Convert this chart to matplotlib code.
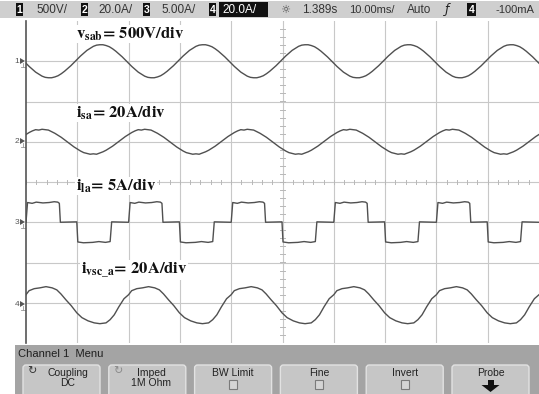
import numpy as np
import matplotlib
matplotlib.use('Agg')
import matplotlib.pyplot as plt
from matplotlib.patches import Rectangle, FancyBboxPatch, Polygon

matplotlib.rcParams['mathtext.fontset'] = 'stix'

W, H = 539, 394
ui_font = ['Liberation Sans', 'DejaVu Sans']
trace_color = '#505050'

# 每个通道一个周期(2格)的读数, x单位: 格, y单位: 格(相对各自零点)
ch1_x = np.arange(32) / 16
ch1_y = [-0.05, -0.13, -0.20, -0.27, -0.32, -0.37, -0.40, -0.41,
         -0.41, -0.39, -0.36, -0.31, -0.25, -0.18, -0.11, -0.03,
         0.05, 0.13, 0.20, 0.27, 0.32, 0.37, 0.40, 0.41,
         0.41, 0.39, 0.36, 0.31, 0.25, 0.18, 0.11, 0.03]

ch2_x = np.arange(32) / 16
ch2_y = [0.18, 0.23, 0.27, 0.30, 0.29, 0.31, 0.30, 0.29,
         0.25, 0.21, 0.16, 0.11, 0.05, -0.01, -0.07, -0.13,
         -0.18, -0.23, -0.27, -0.29, -0.31, -0.30, -0.31, -0.28,
         -0.25, -0.21, -0.16, -0.11, -0.05, 0.01, 0.07, 0.13]

ch3_x = [0.00, 0.03, 0.12, 0.20, 0.33, 0.45, 0.55, 0.62, 0.65, 0.67, 0.99,
         1.01, 1.12, 1.30, 1.42, 1.55, 1.64, 1.67, 1.98]
ch3_y = [0.00, 0.49, 0.47, 0.50, 0.48, 0.49, 0.51, 0.50, 0.47, 0.00, 0.01,
         -0.49, -0.51, -0.50, -0.48, -0.50, -0.48, 0.01, 0.00]

ch4_x = [0.00, 0.06, 0.16, 0.27, 0.39, 0.51, 0.60, 0.68, 0.78, 0.88,
         0.99, 1.09, 1.21, 1.33, 1.44, 1.56, 1.64, 1.72, 1.81, 1.91]
ch4_y = [0.20, 0.30, 0.35, 0.37, 0.40, 0.37, 0.32, 0.22, 0.07, -0.07,
         -0.25, -0.37, -0.45, -0.50, -0.52, -0.50, -0.42, -0.30, -0.10, 0.10]

# 各通道零点位置(格)
ch_offset = [3.0, 1.0, -1.0, -3.0]

ch_labels = [r'$\mathbf{v_{sab}}$= 500V/div', r'$\mathbf{i_{sa}}$= 20A/div',
             r'$\mathbf{i_{la}}$= 5A/div', r'$\mathbf{i_{vsc\_a}}$= 20A/div']

scales = ['500V/', '20.0A/', '5.00A/', '20.0A/']
menu_buttons = [('Coupling', 'DC'), ('Imped', '1M Ohm'), ('BW Limit', None),
                ('Fine', None), ('Invert', None), ('Probe', None)]


def tile(xs, ys, n=5, period=2.0):
    xs = np.asarray(xs, dtype=float)
    ys = np.asarray(ys, dtype=float)
    X = np.concatenate([xs + period * k for k in range(n)] + [xs[:1] + period * n])
    Y = np.concatenate([ys] * n + [ys[:1]])
    return X, Y


fig = plt.figure(figsize=(W / 100, H / 100), dpi=100)

# 背景装饰层, 像素坐标
deco = fig.add_axes([0, 0, 1, 1])
deco.set_xlim(0, W)
deco.set_ylim(H, 0)
deco.axis('off')

# 顶部状态栏
deco.add_patch(Rectangle((0, 1), W, 17, color='#cfcfcf', lw=0))
bx = [16, 81, 143, 209]
tx = [36, 98, 161, 222]
for i in range(4):
    deco.add_patch(Rectangle((bx[i], 3), 7, 13, color='#111111', lw=0))
    deco.text(bx[i] + 3.5, 9.5, str(i + 1), color='white', fontsize=7.5,
              ha='center', va='center', family=ui_font, weight='bold')
    if i == 3:
        deco.add_patch(Rectangle((219, 2), 49, 15, color='#111111', lw=0))
        deco.text(tx[i], 9.5, scales[i], color='white', fontsize=8.5,
                  ha='left', va='center', family=ui_font)
    else:
        deco.text(tx[i], 9.5, scales[i], color='#333333', fontsize=8.5,
                  ha='left', va='center', family=ui_font)
deco.text(285, 9.5, '☼', color='#444444', fontsize=8, ha='center', va='center',
          family=['DejaVu Sans'])
deco.text(302, 9.5, '1.389s', color='#333333', fontsize=8.5, ha='left', va='center', family=ui_font)
deco.text(349, 9.5, '10.00ms/', color='#333333', fontsize=8, ha='left', va='center', family=ui_font)
deco.text(407, 9.5, 'Auto', color='#333333', fontsize=8.5, ha='left', va='center', family=ui_font)
deco.text(447, 9.5, 'ƒ', color='#222222', fontsize=9, ha='center', va='center',
          family=['DejaVu Sans'], style='italic')
deco.add_patch(Rectangle((467, 3), 9, 13, color='#111111', lw=0))
deco.text(471.5, 9.5, '4', color='white', fontsize=7.5, ha='center', va='center',
          family=ui_font, weight='bold')
deco.text(495, 9.5, '-100mA', color='#333333', fontsize=8, ha='left', va='center', family=ui_font)

# 底部菜单
deco.add_patch(Rectangle((15, 345), W, H - 345, color='#a4a4a4', lw=0))
deco.text(18, 354, 'Channel 1  Menu', color='#1e1e1e', fontsize=8,
          ha='left', va='center', family=ui_font)
for k, (top, bottom) in enumerate(menu_buttons):
    x0 = 23 + 85.8 * k
    deco.add_patch(FancyBboxPatch((x0, 365), 77, 40,
                                  boxstyle='round,pad=0,rounding_size=3',
                                  fc='#c6c6c6', ec='#e2e2e2', lw=1))
    cx = x0 + 38.5
    if k == 0:
        cx += 6
        deco.text(x0 + 9, 371, '↻', color='#333333', fontsize=8, ha='center',
                  va='center', family=['DejaVu Sans'])
    if k == 1:
        cx += 4
        deco.text(x0 + 9, 371, '↻', color='#8a8a8a', fontsize=8, ha='center',
                  va='center', family=['DejaVu Sans'])
    deco.text(cx, 373, top, color='#222222', fontsize=7.5, ha='center',
              va='center', family=ui_font)
    if bottom:
        deco.text(cx, 383.5, bottom, color='#222222', fontsize=7.5, ha='center',
                  va='center', family=ui_font)
    elif k < 5:
        deco.add_patch(Rectangle((cx - 4, 380), 8, 9, fc='#d4d4d4', ec='#7a7a7a', lw=0.8))
    else:
        deco.add_patch(Polygon([(cx - 9, 385), (cx + 9, 385), (cx, 392)],
                               closed=True, color='#111111', lw=0))
        deco.add_patch(Rectangle((cx - 3, 380), 6, 5, color='#111111', lw=0))

# 通道零点标记
for i, yp in enumerate([61, 141, 222, 304]):
    deco.text(19.5, yp, str(i + 1), color='#555555', fontsize=6, ha='right',
              va='center', family=ui_font)
    deco.add_patch(Polygon([(20, yp - 3), (25, yp), (20, yp + 3)], closed=True,
                           color='#555555', lw=0))
    deco.plot([22.5, 22.5], [yp + 2, yp + 6], color='#999999', lw=0.6)
    deco.plot([20.5, 24.5], [yp + 6, yp + 6], color='#999999', lw=0.6)

# 示波器屏幕
ax = fig.add_axes([26 / W, 1 - 343 / H, (W - 26) / W, (343 - 21) / H])
ax.set_xlim(0, 10)
ax.set_ylim(-4, 4)
ax.set_facecolor('none')
for s in ['top', 'right', 'bottom']:
    ax.spines[s].set_visible(False)
ax.spines['left'].set_color('#555555')
ax.spines['left'].set_linewidth(1.2)
ax.set_xticks([])
ax.set_yticks([])
for i in range(1, 10):
    ax.axvline(i, color='#c8c8c8', lw=0.8, zorder=1)
for j in range(-3, 4):
    ax.axhline(j, color='#c8c8c8', lw=0.8, zorder=1)
for xm in np.arange(0, 10, 0.2):
    ax.plot([xm, xm], [-0.06, 0.06], color='#b8b8b8', lw=0.7, zorder=1)
for ym in np.arange(-4, 4, 0.2):
    ax.plot([4.95, 5.05], [ym, ym], color='#b8b8b8', lw=0.7, zorder=1)

for (xs, ys), off in zip([(ch1_x, ch1_y), (ch2_x, ch2_y), (ch3_x, ch3_y), (ch4_x, ch4_y)],
                         ch_offset):
    X, Y = tile(xs, ys)
    ax.plot(X, Y + off, color=trace_color, lw=1.0, zorder=3, clip_on=True)

# 通道说明文字(白底遮住网格), 用像素坐标画在屏幕层上
label_pos = [(76, 34), (76, 113), (76, 186), (81, 270)]
for (px, py), lab in zip(label_pos, ch_labels):
    ax.text(px, py, lab, transform=deco.transData, fontsize=12,
            family='STIXGeneral', weight='bold', color='#111111',
            ha='left', va='center', zorder=5,
            bbox=dict(fc='white', ec='none', pad=0.5))

fig.savefig('out.png', dpi=100)
